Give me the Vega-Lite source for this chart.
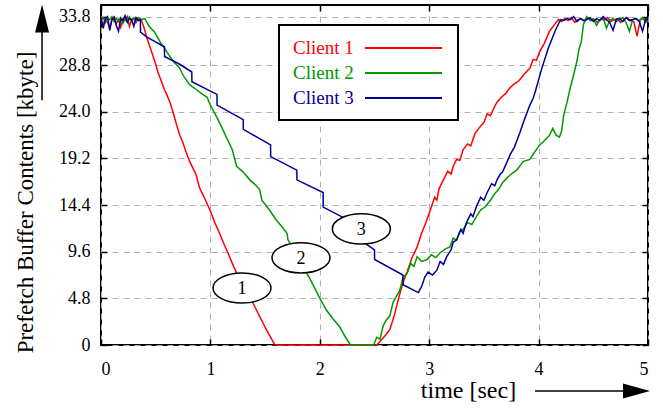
{
"$schema": "https://vega.github.io/schema/vega-lite/v6.json",
"width": 547, "height": 340,
"autosize": "none",
"padding": {"left": 101, "top": 5, "right": 15, "bottom": 63},
"config": {"view": {"stroke": "black", "strokeWidth": 2}, "font": "Liberation Serif"},
"datasets": {
"lines": [
{"s":"Client 1","t":0,"v":33.5},{"s":"Client 1","t":0.02,"v":32.9},{"s":"Client 1","t":0.04,"v":33.7},{"s":"Client 1","t":0.06,"v":33.2},{"s":"Client 1","t":0.08,"v":32.6},{"s":"Client 1","t":0.1,"v":33.6},{"s":"Client 1","t":0.12,"v":33.8},{"s":"Client 1","t":0.14,"v":33.1},{"s":"Client 1","t":0.16,"v":33.5},{"s":"Client 1","t":0.18,"v":32.7},{"s":"Client 1","t":0.2,"v":33.6},{"s":"Client 1","t":0.22,"v":33.4},{"s":"Client 1","t":0.24,"v":33.8},{"s":"Client 1","t":0.26,"v":32.8},{"s":"Client 1","t":0.28,"v":33.5},{"s":"Client 1","t":0.3,"v":33.7},{"s":"Client 1","t":0.32,"v":33.2},{"s":"Client 1","t":0.34,"v":33.6},{"s":"Client 1","t":0.37,"v":33.4},
{"s":"Client 1","t":0.39,"v":32.8},{"s":"Client 1","t":0.42,"v":31.6},{"s":"Client 1","t":0.45,"v":30.6},{"s":"Client 1","t":0.48,"v":29.6},{"s":"Client 1","t":0.5,"v":28.9},{"s":"Client 1","t":0.52,"v":28.1},{"s":"Client 1","t":0.55,"v":27.2},{"s":"Client 1","t":0.58,"v":26.3},{"s":"Client 1","t":0.6,"v":25.8},{"s":"Client 1","t":0.63,"v":25.0},{"s":"Client 1","t":0.66,"v":23.9},{"s":"Client 1","t":0.69,"v":22.7},{"s":"Client 1","t":0.72,"v":21.6},{"s":"Client 1","t":0.75,"v":20.8},{"s":"Client 1","t":0.78,"v":19.8},{"s":"Client 1","t":0.81,"v":18.9},{"s":"Client 1","t":0.84,"v":18.2},{"s":"Client 1","t":0.87,"v":17.5},{"s":"Client 1","t":0.9,"v":16.2},{"s":"Client 1","t":0.93,"v":15.5},{"s":"Client 1","t":0.96,"v":14.8},{"s":"Client 1","t":1.0,"v":13.8},{"s":"Client 1","t":1.04,"v":12.6},{"s":"Client 1","t":1.08,"v":11.6},{"s":"Client 1","t":1.12,"v":10.5},{"s":"Client 1","t":1.16,"v":9.5},{"s":"Client 1","t":1.2,"v":8.4},{"s":"Client 1","t":1.24,"v":7.4},{"s":"Client 1","t":1.28,"v":6.5},{"s":"Client 1","t":1.32,"v":5.7},{"s":"Client 1","t":1.36,"v":4.9},{"s":"Client 1","t":1.39,"v":4.3},{"s":"Client 1","t":1.43,"v":3.4},{"s":"Client 1","t":1.47,"v":2.5},{"s":"Client 1","t":1.51,"v":1.6},{"s":"Client 1","t":1.55,"v":0.8},{"s":"Client 1","t":1.59,"v":0},{"s":"Client 1","t":2.0,"v":0},{"s":"Client 1","t":2.52,"v":0},
{"s":"Client 1","t":2.56,"v":0.5},{"s":"Client 1","t":2.6,"v":1.0},{"s":"Client 1","t":2.64,"v":1.6},{"s":"Client 1","t":2.68,"v":3.0},{"s":"Client 1","t":2.72,"v":4.8},{"s":"Client 1","t":2.76,"v":6.4},{"s":"Client 1","t":2.8,"v":7.6},{"s":"Client 1","t":2.84,"v":8.9},{"s":"Client 1","t":2.89,"v":10.1},{"s":"Client 1","t":2.93,"v":11.5},{"s":"Client 1","t":2.97,"v":12.6},{"s":"Client 1","t":3.01,"v":13.9},{"s":"Client 1","t":3.05,"v":15.2},{"s":"Client 1","t":3.07,"v":14.9},{"s":"Client 1","t":3.09,"v":16.1},{"s":"Client 1","t":3.13,"v":17.0},{"s":"Client 1","t":3.17,"v":17.9},{"s":"Client 1","t":3.2,"v":17.6},{"s":"Client 1","t":3.22,"v":18.4},{"s":"Client 1","t":3.25,"v":19.1},{"s":"Client 1","t":3.28,"v":19.0},{"s":"Client 1","t":3.31,"v":20.1},{"s":"Client 1","t":3.35,"v":20.7},{"s":"Client 1","t":3.38,"v":20.5},{"s":"Client 1","t":3.42,"v":21.8},{"s":"Client 1","t":3.46,"v":22.4},{"s":"Client 1","t":3.5,"v":22.9},{"s":"Client 1","t":3.53,"v":23.8},{"s":"Client 1","t":3.56,"v":23.6},{"s":"Client 1","t":3.6,"v":24.6},{"s":"Client 1","t":3.62,"v":25.0},{"s":"Client 1","t":3.66,"v":25.5},{"s":"Client 1","t":3.7,"v":25.9},{"s":"Client 1","t":3.74,"v":26.5},{"s":"Client 1","t":3.77,"v":26.8},{"s":"Client 1","t":3.82,"v":27.2},{"s":"Client 1","t":3.87,"v":27.9},{"s":"Client 1","t":3.92,"v":28.5},{"s":"Client 1","t":3.95,"v":29.4},{"s":"Client 1","t":3.98,"v":29.3},{"s":"Client 1","t":4.01,"v":30.2},{"s":"Client 1","t":4.05,"v":31.0},{"s":"Client 1","t":4.1,"v":32.3},{"s":"Client 1","t":4.14,"v":32.9},{"s":"Client 1","t":4.18,"v":33.5},
{"s":"Client 1","t":4.21,"v":33.3},{"s":"Client 1","t":4.24,"v":33.6},{"s":"Client 1","t":4.27,"v":33.4},{"s":"Client 1","t":4.3,"v":33.7},{"s":"Client 1","t":4.33,"v":33.2},{"s":"Client 1","t":4.36,"v":33.5},{"s":"Client 1","t":4.39,"v":33.6},{"s":"Client 1","t":4.42,"v":33.3},{"s":"Client 1","t":4.45,"v":33.7},{"s":"Client 1","t":4.48,"v":33.4},{"s":"Client 1","t":4.51,"v":33.5},{"s":"Client 1","t":4.54,"v":33.2},{"s":"Client 1","t":4.57,"v":33.6},{"s":"Client 1","t":4.6,"v":33.4},{"s":"Client 1","t":4.63,"v":33.7},{"s":"Client 1","t":4.66,"v":33.3},{"s":"Client 1","t":4.69,"v":33.5},{"s":"Client 1","t":4.72,"v":33.6},{"s":"Client 1","t":4.75,"v":33.2},{"s":"Client 1","t":4.78,"v":33.5},{"s":"Client 1","t":4.81,"v":33.7},{"s":"Client 1","t":4.84,"v":33.4},{"s":"Client 1","t":4.87,"v":33.3},{"s":"Client 1","t":4.9,"v":31.8},{"s":"Client 1","t":4.93,"v":33.5},{"s":"Client 1","t":4.96,"v":33.6},{"s":"Client 1","t":5.0,"v":33.3},

{"s":"Client 2","t":0,"v":33.4},{"s":"Client 2","t":0.02,"v":33.7},{"s":"Client 2","t":0.04,"v":33.2},{"s":"Client 2","t":0.06,"v":33.6},{"s":"Client 2","t":0.08,"v":33.5},{"s":"Client 2","t":0.1,"v":33.8},{"s":"Client 2","t":0.12,"v":33.3},{"s":"Client 2","t":0.14,"v":33.6},{"s":"Client 2","t":0.16,"v":33.4},{"s":"Client 2","t":0.18,"v":33.7},{"s":"Client 2","t":0.2,"v":33.1},{"s":"Client 2","t":0.22,"v":33.6},{"s":"Client 2","t":0.24,"v":33.5},{"s":"Client 2","t":0.26,"v":33.8},{"s":"Client 2","t":0.28,"v":33.3},{"s":"Client 2","t":0.3,"v":33.6},{"s":"Client 2","t":0.32,"v":33.4},{"s":"Client 2","t":0.34,"v":33.7},{"s":"Client 2","t":0.37,"v":33.5},
{"s":"Client 2","t":0.4,"v":33.6},{"s":"Client 2","t":0.44,"v":32.8},{"s":"Client 2","t":0.49,"v":32.2},{"s":"Client 2","t":0.54,"v":31.2},{"s":"Client 2","t":0.6,"v":30.2},{"s":"Client 2","t":0.66,"v":29.2},{"s":"Client 2","t":0.72,"v":28.5},{"s":"Client 2","t":0.74,"v":28.0},{"s":"Client 2","t":0.76,"v":27.6},{"s":"Client 2","t":0.81,"v":26.8},{"s":"Client 2","t":0.87,"v":26.3},{"s":"Client 2","t":0.93,"v":25.8},{"s":"Client 2","t":0.97,"v":25.5},{"s":"Client 2","t":1.0,"v":24.7},{"s":"Client 2","t":1.06,"v":23.4},{"s":"Client 2","t":1.1,"v":22.5},{"s":"Client 2","t":1.15,"v":21.3},{"s":"Client 2","t":1.2,"v":20.1},{"s":"Client 2","t":1.24,"v":18.4},{"s":"Client 2","t":1.3,"v":17.8},{"s":"Client 2","t":1.36,"v":17.0},{"s":"Client 2","t":1.42,"v":16.4},{"s":"Client 2","t":1.45,"v":16.0},{"s":"Client 2","t":1.47,"v":14.9},{"s":"Client 2","t":1.54,"v":13.9},{"s":"Client 2","t":1.6,"v":12.9},{"s":"Client 2","t":1.66,"v":12.1},{"s":"Client 2","t":1.7,"v":11.5},{"s":"Client 2","t":1.71,"v":10.8},{"s":"Client 2","t":1.76,"v":9.9},{"s":"Client 2","t":1.82,"v":8.6},{"s":"Client 2","t":1.88,"v":7.4},{"s":"Client 2","t":1.92,"v":6.6},{"s":"Client 2","t":1.96,"v":5.7},{"s":"Client 2","t":2.01,"v":4.6},{"s":"Client 2","t":2.06,"v":3.6},{"s":"Client 2","t":2.12,"v":2.7},{"s":"Client 2","t":2.18,"v":1.9},{"s":"Client 2","t":2.23,"v":0.9},{"s":"Client 2","t":2.28,"v":0},{"s":"Client 2","t":2.49,"v":0},
{"s":"Client 2","t":2.5,"v":0.2},{"s":"Client 2","t":2.52,"v":0.8},{"s":"Client 2","t":2.55,"v":0.6},{"s":"Client 2","t":2.58,"v":2.0},{"s":"Client 2","t":2.61,"v":2.6},{"s":"Client 2","t":2.64,"v":3.0},{"s":"Client 2","t":2.67,"v":4.4},{"s":"Client 2","t":2.7,"v":5.0},{"s":"Client 2","t":2.73,"v":5.6},{"s":"Client 2","t":2.76,"v":6.9},{"s":"Client 2","t":2.8,"v":7.4},{"s":"Client 2","t":2.83,"v":8.4},{"s":"Client 2","t":2.86,"v":8.1},{"s":"Client 2","t":2.89,"v":9.1},{"s":"Client 2","t":2.93,"v":8.6},{"s":"Client 2","t":2.98,"v":8.8},{"s":"Client 2","t":3.02,"v":9.3},{"s":"Client 2","t":3.06,"v":9.0},{"s":"Client 2","t":3.1,"v":9.5},{"s":"Client 2","t":3.15,"v":9.9},{"s":"Client 2","t":3.19,"v":10.1},{"s":"Client 2","t":3.22,"v":11.0},{"s":"Client 2","t":3.25,"v":10.8},{"s":"Client 2","t":3.28,"v":11.7},{"s":"Client 2","t":3.31,"v":11.9},{"s":"Client 2","t":3.35,"v":12.6},{"s":"Client 2","t":3.39,"v":12.4},{"s":"Client 2","t":3.43,"v":13.2},{"s":"Client 2","t":3.47,"v":13.9},{"s":"Client 2","t":3.51,"v":14.2},{"s":"Client 2","t":3.56,"v":14.9},{"s":"Client 2","t":3.6,"v":15.6},{"s":"Client 2","t":3.64,"v":16.1},{"s":"Client 2","t":3.67,"v":16.7},{"s":"Client 2","t":3.71,"v":17.2},{"s":"Client 2","t":3.74,"v":17.5},{"s":"Client 2","t":3.8,"v":18.0},{"s":"Client 2","t":3.86,"v":18.9},{"s":"Client 2","t":3.92,"v":19.1},{"s":"Client 2","t":3.96,"v":19.8},{"s":"Client 2","t":4.01,"v":20.6},{"s":"Client 2","t":4.05,"v":21.0},{"s":"Client 2","t":4.1,"v":21.6},{"s":"Client 2","t":4.13,"v":22.3},{"s":"Client 2","t":4.16,"v":21.6},{"s":"Client 2","t":4.19,"v":21.4},{"s":"Client 2","t":4.21,"v":22.0},{"s":"Client 2","t":4.23,"v":23.7},{"s":"Client 2","t":4.26,"v":25.0},{"s":"Client 2","t":4.29,"v":26.5},{"s":"Client 2","t":4.32,"v":27.8},{"s":"Client 2","t":4.35,"v":29.2},{"s":"Client 2","t":4.37,"v":30.5},{"s":"Client 2","t":4.39,"v":31.2},{"s":"Client 2","t":4.41,"v":33.0},{"s":"Client 2","t":4.44,"v":33.8},
{"s":"Client 2","t":4.47,"v":33.4},{"s":"Client 2","t":4.5,"v":33.6},{"s":"Client 2","t":4.53,"v":32.9},{"s":"Client 2","t":4.56,"v":33.5},{"s":"Client 2","t":4.59,"v":33.7},{"s":"Client 2","t":4.62,"v":32.6},{"s":"Client 2","t":4.65,"v":33.4},{"s":"Client 2","t":4.68,"v":33.6},{"s":"Client 2","t":4.71,"v":33.3},{"s":"Client 2","t":4.74,"v":33.5},{"s":"Client 2","t":4.77,"v":33.7},{"s":"Client 2","t":4.8,"v":33.2},{"s":"Client 2","t":4.83,"v":32.3},{"s":"Client 2","t":4.86,"v":33.5},{"s":"Client 2","t":4.89,"v":33.6},{"s":"Client 2","t":4.92,"v":33.4},{"s":"Client 2","t":4.95,"v":33.7},{"s":"Client 2","t":4.98,"v":33.2},{"s":"Client 2","t":5.0,"v":33.5},

{"s":"Client 3","t":0,"v":33.7},{"s":"Client 3","t":0.02,"v":32.6},{"s":"Client 3","t":0.04,"v":33.6},{"s":"Client 3","t":0.06,"v":33.8},{"s":"Client 3","t":0.08,"v":32.4},{"s":"Client 3","t":0.1,"v":33.5},{"s":"Client 3","t":0.12,"v":33.7},{"s":"Client 3","t":0.14,"v":32.9},{"s":"Client 3","t":0.16,"v":32.3},{"s":"Client 3","t":0.18,"v":33.6},{"s":"Client 3","t":0.2,"v":33.4},{"s":"Client 3","t":0.22,"v":33.9},{"s":"Client 3","t":0.24,"v":33.2},{"s":"Client 3","t":0.26,"v":33.6},{"s":"Client 3","t":0.28,"v":33.5},{"s":"Client 3","t":0.3,"v":32.8},{"s":"Client 3","t":0.32,"v":33.7},{"s":"Client 3","t":0.34,"v":33.4},{"s":"Client 3","t":0.36,"v":33.5},
{"s":"Client 3","t":0.361,"v":32.2},{"s":"Client 3","t":0.42,"v":31.7},{"s":"Client 3","t":0.58,"v":30.7},{"s":"Client 3","t":0.581,"v":29.7},{"s":"Client 3","t":0.72,"v":28.9},{"s":"Client 3","t":0.83,"v":28.1},{"s":"Client 3","t":0.831,"v":27.1},{"s":"Client 3","t":1.06,"v":25.8},{"s":"Client 3","t":1.061,"v":24.7},{"s":"Client 3","t":1.3,"v":23.2},{"s":"Client 3","t":1.301,"v":22.2},{"s":"Client 3","t":1.55,"v":20.6},{"s":"Client 3","t":1.551,"v":19.4},{"s":"Client 3","t":1.79,"v":18.0},{"s":"Client 3","t":1.791,"v":17.0},{"s":"Client 3","t":2.03,"v":15.7},{"s":"Client 3","t":2.031,"v":14.2},{"s":"Client 3","t":2.27,"v":12.8},{"s":"Client 3","t":2.271,"v":11.6},{"s":"Client 3","t":2.5,"v":9.8},{"s":"Client 3","t":2.501,"v":8.8},{"s":"Client 3","t":2.76,"v":7.2},{"s":"Client 3","t":2.761,"v":6.2},{"s":"Client 3","t":2.9,"v":5.4},
{"s":"Client 3","t":2.93,"v":6.0},{"s":"Client 3","t":2.96,"v":7.0},{"s":"Client 3","t":2.99,"v":7.5},{"s":"Client 3","t":3.03,"v":7.2},{"s":"Client 3","t":3.07,"v":7.7},{"s":"Client 3","t":3.1,"v":8.6},{"s":"Client 3","t":3.13,"v":8.3},{"s":"Client 3","t":3.16,"v":9.1},{"s":"Client 3","t":3.2,"v":9.8},{"s":"Client 3","t":3.22,"v":10.6},{"s":"Client 3","t":3.25,"v":10.8},{"s":"Client 3","t":3.29,"v":11.9},{"s":"Client 3","t":3.31,"v":11.5},{"s":"Client 3","t":3.34,"v":12.6},{"s":"Client 3","t":3.38,"v":13.5},{"s":"Client 3","t":3.4,"v":13.2},{"s":"Client 3","t":3.43,"v":14.2},{"s":"Client 3","t":3.47,"v":15.2},{"s":"Client 3","t":3.5,"v":14.9},{"s":"Client 3","t":3.53,"v":15.7},{"s":"Client 3","t":3.57,"v":16.6},{"s":"Client 3","t":3.6,"v":16.4},{"s":"Client 3","t":3.62,"v":17.0},{"s":"Client 3","t":3.65,"v":17.6},{"s":"Client 3","t":3.67,"v":17.8},{"s":"Client 3","t":3.71,"v":18.8},{"s":"Client 3","t":3.74,"v":19.6},{"s":"Client 3","t":3.78,"v":20.4},{"s":"Client 3","t":3.83,"v":21.9},{"s":"Client 3","t":3.87,"v":23.2},{"s":"Client 3","t":3.92,"v":24.7},{"s":"Client 3","t":3.95,"v":25.4},{"s":"Client 3","t":3.97,"v":26.1},{"s":"Client 3","t":4.03,"v":28.5},{"s":"Client 3","t":4.09,"v":30.6},{"s":"Client 3","t":4.15,"v":32.3},{"s":"Client 3","t":4.2,"v":33.5},
{"s":"Client 3","t":4.23,"v":33.4},{"s":"Client 3","t":4.26,"v":33.6},{"s":"Client 3","t":4.29,"v":33.5},{"s":"Client 3","t":4.32,"v":33.8},{"s":"Client 3","t":4.35,"v":33.3},{"s":"Client 3","t":4.38,"v":33.6},{"s":"Client 3","t":4.41,"v":33.4},{"s":"Client 3","t":4.44,"v":33.5},{"s":"Client 3","t":4.47,"v":33.7},{"s":"Client 3","t":4.5,"v":33.3},{"s":"Client 3","t":4.53,"v":33.6},{"s":"Client 3","t":4.56,"v":33.4},{"s":"Client 3","t":4.59,"v":33.8},{"s":"Client 3","t":4.62,"v":33.5},{"s":"Client 3","t":4.65,"v":33.2},{"s":"Client 3","t":4.68,"v":32.4},{"s":"Client 3","t":4.71,"v":33.5},{"s":"Client 3","t":4.74,"v":33.6},{"s":"Client 3","t":4.77,"v":33.3},{"s":"Client 3","t":4.8,"v":33.7},{"s":"Client 3","t":4.83,"v":33.4},{"s":"Client 3","t":4.86,"v":33.5},{"s":"Client 3","t":4.89,"v":33.6},{"s":"Client 3","t":4.92,"v":33.3},{"s":"Client 3","t":4.95,"v":32.3},{"s":"Client 3","t":4.98,"v":33.6},{"s":"Client 3","t":5.0,"v":33.4}
],
"labels": [
{"n":"1","t":1.289,"v":5.87},{"n":"2","t":1.828,"v":8.97},{"n":"3","t":2.38,"v":11.95}
],
"arrowLines": [
{"t":3.967,"t2":4.8,"v":-4.74,"v2":-4.74},{"t":-0.539,"t2":-0.539,"v":25.2,"v2":32.3}
],
"headX": [{"t":4.895,"v":-4.74}],
"headY": [{"t":-0.539,"v":33.6}]
},
"layer": [
{
"data": {"name": "lines"},
"mark": {"type": "line", "strokeWidth": 1.5},
"encoding": {
"x": {"field": "t", "type": "quantitative", "scale": {"domain": [0, 5], "nice": false, "zero": false},
"axis": {"orient": "bottom", "values": [0,1,2,3,4,5], "format": "d", "title": "time [sec]", "titleFont": "Liberation Serif", "titleFontSize": 24, "titleFontWeight": "normal", "titleColor": "black", "titleX": 367, "titleY": 52, "titleBaseline": "alphabetic", "titleAlign": "center", "titleAnchor": null, "labelFont": "Liberation Serif", "labelFontSize": 18, "labelColor": "black", "labelPadding": 21, "tickSize": -6, "tickColor": "black", "tickWidth": 1.5, "domain": false, "grid": true, "gridColor": "#b0b0b0", "gridDash": [6, 5], "gridWidth": 1}},
"y": {"field": "v", "type": "quantitative", "scale": {"domain": [0, 35], "nice": false, "zero": false},
"axis": {"orient": "left", "values": [0,4.8,9.6,14.4,19.2,24,28.8,33.8], "labelExpr": "datum.value == 0 ? '0' : format(datum.value, '.1f')", "title": "Prefetch Buffer Contents [kbyte]", "titleFont": "Liberation Serif", "titleFontSize": 23, "titleFontWeight": "normal", "titleColor": "black", "titleX": -69, "titleY": 197, "titleBaseline": "alphabetic", "titleAlign": "center", "titleAngle": -90, "labelFont": "Liberation Serif", "labelFontSize": 18, "labelColor": "black", "labelPadding": 17, "tickSize": -6, "tickColor": "black", "tickWidth": 1.5, "domain": false, "grid": true, "gridColor": "#b0b0b0", "gridDash": [6, 5], "gridWidth": 1}},
"color": {"field": "s", "type": "nominal", "scale": {"domain": ["Client 1", "Client 2", "Client 3"], "range": ["#ff0000", "#009900", "#000099"]},
"legend": {"orient": "none", "legendX": 178, "legendY": 20, "title": null, "symbolType": "M6.3,0H14", "symbolSize": 400, "symbolStrokeWidth": 2, "symbolOffset": 0, "labelOffset": -20, "labelAlign": "left", "labelFont": "Liberation Serif", "labelFontSize": 19, "labelLimit": 0, "rowPadding": 4, "padding": 12, "fillColor": "white", "strokeColor": "black",
"encode": {"labels": {"update": {"fill": {"scale": "color", "field": "value"}}}, "legend": {"update": {"strokeWidth": {"value": 2}}}}}}
}
},
{
"data": {"name": "labels"},
"mark": {"type": "point", "shape": "M-1,0A1,0.52,0,1,1,1,0A1,0.52,0,1,1,-1,0Z", "size": 3364, "filled": true, "fill": "white", "stroke": "black", "strokeWidth": 1.5, "opacity": 1},
"encoding": {
"x": {"field": "t", "type": "quantitative", "scale": {"domain": [0, 5], "nice": false, "zero": false},
"axis": {"orient": "top", "values": [0,1,2,3,4,5], "labels": false, "title": null, "tickSize": -6, "tickColor": "black", "tickWidth": 1.5, "domain": false, "grid": false}},
"y": {"field": "v", "type": "quantitative", "scale": {"domain": [0, 35], "nice": false, "zero": false},
"axis": {"orient": "right", "values": [0,4.8,9.6,14.4,19.2,24,28.8,33.8], "labels": false, "title": null, "tickSize": -6, "tickColor": "black", "tickWidth": 1.5, "domain": false, "grid": false}}
}
},
{
"data": {"name": "labels"},
"mark": {"type": "text", "font": "Liberation Serif", "fontSize": 18, "color": "black", "baseline": "middle", "align": "center", "dy": 1},
"encoding": {
"x": {"field": "t", "type": "quantitative", "scale": {"domain": [0, 5], "nice": false, "zero": false}, "axis": null},
"y": {"field": "v", "type": "quantitative", "scale": {"domain": [0, 35], "nice": false, "zero": false}, "axis": null},
"text": {"field": "n"}
}
},
{
"data": {"name": "arrowLines"},
"mark": {"type": "rule", "color": "black", "strokeWidth": 1.5},
"encoding": {
"x": {"field": "t", "type": "quantitative", "scale": {"domain": [0, 5], "nice": false, "zero": false}, "axis": null},
"x2": {"field": "t2"},
"y": {"field": "v", "type": "quantitative", "scale": {"domain": [0, 35], "nice": false, "zero": false}, "axis": null},
"y2": {"field": "v2"}
}
},
{
"data": {"name": "headX"},
"mark": {"type": "point", "shape": "M-1,-0.55L1,0L-1,0.55Z", "size": 729, "filled": true, "color": "black", "opacity": 1},
"encoding": {
"x": {"field": "t", "type": "quantitative", "scale": {"domain": [0, 5], "nice": false, "zero": false}, "axis": null},
"y": {"field": "v", "type": "quantitative", "scale": {"domain": [0, 35], "nice": false, "zero": false}, "axis": null}
}
},
{
"data": {"name": "headY"},
"mark": {"type": "point", "shape": "M-0.5,1L0,-1L0.5,1Z", "size": 784, "filled": true, "color": "black", "opacity": 1},
"encoding": {
"x": {"field": "t", "type": "quantitative", "scale": {"domain": [0, 5], "nice": false, "zero": false}, "axis": null},
"y": {"field": "v", "type": "quantitative", "scale": {"domain": [0, 35], "nice": false, "zero": false}, "axis": null}
}
}
],
"resolve": {"axis": {"x": "independent", "y": "independent"}}
}
